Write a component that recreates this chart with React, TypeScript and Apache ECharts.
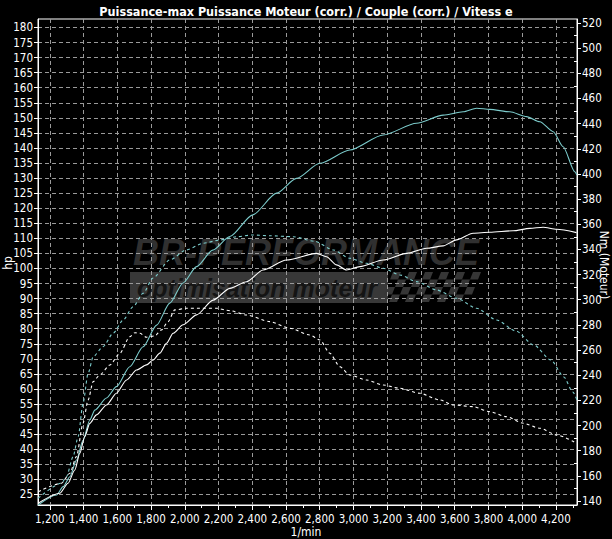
import React, { useEffect, useRef } from "react";
import * as echarts from "echarts";

const TITLE = "Puissance-max Puissance Moteur (corr.) / Couple (corr.) / Vitess e";
const X_NAME = "1/min";
const Y_LEFT_NAME = "hp";
const Y_RIGHT_NAME = "Nm (Moteur)";

const rpmTicks = [1200, 1400, 1600, 1800, 2000, 2200, 2400, 2600, 2800, 3000, 3200, 3400, 3600, 3800, 4000, 4200];
const rpmMinorTicks = [1300, 1500, 1700, 1900, 2100, 2300, 2500, 2700, 2900, 3100, 3300, 3500, 3700, 3900, 4100, 4300];
const hpTicks = [25, 30, 35, 40, 45, 50, 55, 60, 65, 70, 75, 80, 85, 90, 95, 100, 105, 110, 115, 120, 125, 130, 135, 140, 145, 150, 155, 160, 165, 170, 175, 180];
const nmTicks = [140, 160, 180, 200, 220, 240, 260, 280, 300, 320, 340, 360, 380, 400, 420, 440, 460, 480, 500, 520];
const nmMinorTicks = [150, 170, 190, 210, 230, 250, 270, 290, 310, 330, 350, 370, 390, 410, 430, 450, 470, 490, 510];

// Tuned engine power (cyan, solid) - hp
const tunedPowerRpm = [1131, 1240, 1279, 1319, 1358, 1397, 1437, 1467, 1536, 1595, 1674, 1753, 1833, 1911, 1990, 2070, 2166, 2267, 2403, 2544, 2662, 2801, 2978, 3176, 3374, 3532, 3650, 3730, 3808, 3927, 4026, 4105, 4184, 4243, 4312, 4324];
const tunedPowerHp = [21.5, 24.8, 27.6, 30.9, 36.4, 43.0, 49.7, 53.0, 57.0, 60.8, 67.4, 74.0, 81.2, 88.5, 95.2, 100.6, 106.1, 110.6, 117.8, 125.0, 129.9, 134.9, 139.3, 144.3, 148.2, 150.9, 152.0, 153.2, 152.8, 152.0, 150.4, 148.7, 145.4, 140.4, 132.1, 131.0];

// Stock engine power (white, solid) - hp
const stockPowerRpm = [1131, 1259, 1308, 1348, 1378, 1407, 1437, 1477, 1536, 1595, 1655, 1714, 1773, 1812, 1852, 1892, 1931, 1990, 2070, 2168, 2267, 2366, 2464, 2603, 2781, 2840, 2900, 2959, 3038, 3176, 3315, 3433, 3531, 3611, 3709, 3808, 3946, 4045, 4124, 4204, 4322];
const stockPowerHp = [22.1, 25.4, 28.7, 33.1, 38.7, 44.2, 48.6, 51.4, 54.7, 58.6, 63.0, 66.3, 68.0, 69.6, 71.9, 75.2, 78.5, 81.3, 84.6, 89.5, 93.4, 95.6, 99.5, 102.8, 105.0, 103.9, 101.2, 99.5, 100.6, 102.8, 105.0, 106.7, 107.5, 109.5, 111.7, 112.0, 112.5, 113.3, 113.7, 113.0, 111.9];

// Tuned torque (cyan, dashed) - Nm
const tunedTorqueRpm = [1131, 1269, 1299, 1338, 1368, 1397, 1427, 1457, 1516, 1575, 1635, 1694, 1753, 1812, 1911, 2010, 2109, 2208, 2307, 2405, 2504, 2642, 2770, 2880, 2978, 3077, 3176, 3275, 3374, 3492, 3611, 3730, 3848, 3962, 4069, 4170, 4247, 4300, 4329];
const tunedTorqueNm = [142.2, 154.1, 159.4, 175.3, 191.1, 217.7, 241.5, 254.7, 262.7, 273.3, 283.9, 294.5, 305.1, 317.3, 331.6, 339.6, 344.9, 347.5, 350.1, 351.5, 350.9, 350.1, 346.5, 339.6, 333.0, 329.0, 325.0, 319.7, 314.4, 307.8, 301.2, 293.2, 283.9, 275.2, 264.0, 252.1, 238.6, 226.7, 218.7];

// Stock torque (white, dashed) - Nm
const stockTorqueRpm = [1131, 1269, 1319, 1358, 1397, 1427, 1457, 1496, 1556, 1615, 1674, 1704, 1734, 1773, 1822, 1862, 1901, 1941, 2010, 2089, 2188, 2267, 2366, 2504, 2623, 2741, 2801, 2860, 2919, 2978, 3077, 3176, 3275, 3393, 3512, 3591, 3709, 3808, 3907, 4006, 4105, 4204, 4322];
const stockTorqueNm = [147.4, 154.1, 162.1, 175.3, 201.8, 220.3, 234.9, 240.2, 248.1, 257.4, 270.6, 273.8, 273.3, 270.2, 271.2, 276.0, 282.6, 291.9, 293.2, 293.2, 293.2, 291.3, 287.9, 282.6, 277.3, 272.0, 268.0, 257.4, 246.8, 240.2, 236.2, 232.2, 229.6, 225.6, 220.3, 216.3, 215.0, 211.0, 207.0, 201.8, 197.8, 192.5, 185.9];

const FONT = "'Liberation Sans Narrow', 'DejaVu Sans Condensed', 'Arial Narrow', sans-serif";
const CYAN = "#7ccccc";
const GRID_COLOR = "#9a9a9a";

const zip = (xs: number[], ys: number[]) => xs.map((x, i) => [x, ys[i]]);

function checkerCells() {
  const cells: any[] = [];
  const x0 = 390, y0 = 272, w = 8, h = 7.5, skew = 3;
  for (let r = 0; r < 4; r++) {
    for (let c = 0; c < 11; c++) {
      if ((r + c) % 2 !== 0) continue;
      const x = x0 + c * w - r * skew;
      const y = y0 + r * h;
      cells.push({
        type: "polygon",
        z: -5,
        silent: true,
        shape: { points: [[x + skew, y], [x + w + skew, y], [x + w, y + h], [x, y + h]] },
        style: { fill: "#363636" },
      });
    }
  }
  return cells;
}

export default function App() {
  const ref = useRef<HTMLDivElement>(null);
  useEffect(() => {
    if (!ref.current) return;
    const chart = echarts.init(ref.current, null, { renderer: "svg" });
    const lineBase = { type: "line", showSymbol: false, symbol: "none", smooth: 0.25, smoothMonotone: "x", z: 5 };
    chart.setOption({
      animation: false,
      backgroundColor: "#000000",
      title: {
        text: TITLE,
        left: "center",
        top: 0,
        textStyle: { color: "#ffffff", fontFamily: FONT, fontSize: 12.5, fontWeight: "bold" },
      },
      grid: {
        left: 38,
        right: 35,
        top: 19,
        bottom: 34,
        show: true,
        borderColor: "#ffffff",
        borderWidth: 1,
        backgroundColor: "transparent",
        outerBoundsMode: "none",
        containLabel: false,
      },
      xAxis: [
        {
          type: "value",
          min: 1130,
          max: 4325,
          position: "bottom",
          axisLine: { show: true, lineStyle: { color: "#ffffff", width: 1 } },
          axisTick: { show: true, customValues: rpmTicks, length: 5, lineStyle: { color: "#ffffff" } },
          axisLabel: {
            customValues: rpmTicks,
            color: "#ffffff",
            fontFamily: FONT,
            fontSize: 11.5,
            margin: 8,
            formatter: (v: number) => v.toLocaleString("en-US"),
          },
          splitLine: { show: true, lineStyle: { color: GRID_COLOR, type: [4, 3], width: 1 } },
        },
        {
          type: "value",
          min: 1130,
          max: 4325,
          position: "bottom",
          axisLine: { show: false },
          axisTick: { show: true, customValues: rpmMinorTicks, length: 3, lineStyle: { color: "#ffffff" } },
          axisLabel: { show: false },
          splitLine: { show: false },
        },
      ],
      yAxis: [
        {
          type: "value",
          min: 21.5,
          max: 182.8,
          position: "left",
          axisLine: { show: true, lineStyle: { color: "#ffffff", width: 1 } },
          axisTick: { show: true, customValues: hpTicks, length: 4, lineStyle: { color: "#ffffff" } },
          axisLabel: { customValues: hpTicks, color: "#ffffff", fontFamily: FONT, fontSize: 11.5, margin: 5 },
          splitLine: { show: true, lineStyle: { color: GRID_COLOR, type: [4, 3], width: 1 } },
        },
        {
          type: "value",
          min: 136.8,
          max: 523.2,
          position: "right",
          axisLine: { show: true, lineStyle: { color: "#ffffff", width: 1 } },
          axisTick: { show: true, customValues: nmTicks, length: 4, lineStyle: { color: "#ffffff" } },
          axisLabel: { customValues: nmTicks, color: "#ffffff", fontFamily: FONT, fontSize: 11.5, margin: 5 },
          splitLine: { show: false },
        },
        {
          type: "value",
          min: 136.8,
          max: 523.2,
          position: "right",
          axisLine: { show: false },
          axisTick: { show: true, inside: true, customValues: nmMinorTicks, length: 3, lineStyle: { color: "#ffffff" } },
          axisLabel: { show: false },
          splitLine: { show: false },
        },
      ],
      graphic: [
        {
          type: "text",
          z: -5,
          silent: true,
          x: 133,
          y: 252,
          style: {
            text: "BR-PERFORMANCE",
            fill: "#303030",
            fontFamily: "'Liberation Sans', Arial, sans-serif",
            fontSize: 36,
            fontWeight: "bold",
            fontStyle: "italic",
            verticalAlign: "middle",
            align: "left",
          },
        },
        {
          type: "rect",
          z: -6,
          silent: true,
          shape: { x: 130, y: 272, width: 258, height: 31 },
          style: { fill: "#383838" },
        },
        {
          type: "text",
          z: -5,
          silent: true,
          x: 137,
          y: 288,
          style: {
            text: "optimisation moteur",
            fill: "#141414",
            fontFamily: "'Liberation Sans', Arial, sans-serif",
            fontSize: 25,
            fontWeight: "bold",
            fontStyle: "italic",
            verticalAlign: "middle",
            align: "left",
          },
        },
        ...checkerCells(),
        {
          type: "text",
          x: 8,
          y: 263,
          rotation: Math.PI / 2,
          style: { text: Y_LEFT_NAME, fill: "#ffffff", fontFamily: FONT, fontSize: 12, align: "center", verticalAlign: "middle" },
        },
        {
          type: "text",
          x: 604,
          y: 265,
          rotation: -Math.PI / 2,
          style: { text: Y_RIGHT_NAME, fill: "#ffffff", fontFamily: FONT, fontSize: 12, align: "center", verticalAlign: "middle" },
        },
        {
          type: "text",
          x: 306,
          y: 532,
          style: { text: X_NAME, fill: "#ffffff", fontFamily: FONT, fontSize: 12, align: "center", verticalAlign: "middle" },
        },
      ],
      series: [
        {
          ...lineBase,
          name: "Puissance (optimisé)",
          xAxisIndex: 0,
          yAxisIndex: 0,
          data: zip(tunedPowerRpm, tunedPowerHp),
          lineStyle: { color: CYAN, width: 1.1 },
        },
        {
          ...lineBase,
          name: "Puissance (origine)",
          xAxisIndex: 0,
          yAxisIndex: 0,
          data: zip(stockPowerRpm, stockPowerHp),
          lineStyle: { color: "#ffffff", width: 1.1 },
        },
        {
          ...lineBase,
          name: "Couple (optimisé)",
          xAxisIndex: 0,
          yAxisIndex: 1,
          data: zip(tunedTorqueRpm, tunedTorqueNm),
          lineStyle: { color: CYAN, width: 1.1, type: [3, 3] },
        },
        {
          ...lineBase,
          name: "Couple (origine)",
          xAxisIndex: 0,
          yAxisIndex: 1,
          data: zip(stockTorqueRpm, stockTorqueNm),
          lineStyle: { color: "#ffffff", width: 1.1, type: [3, 3] },
        },
      ],
    });
    return () => chart.dispose();
  }, []);
  return (
    <div
      ref={ref}
      style={{ position: "fixed", left: 0, top: 0, width: 612, height: 539, background: "#000" }}
    />
  );
}
